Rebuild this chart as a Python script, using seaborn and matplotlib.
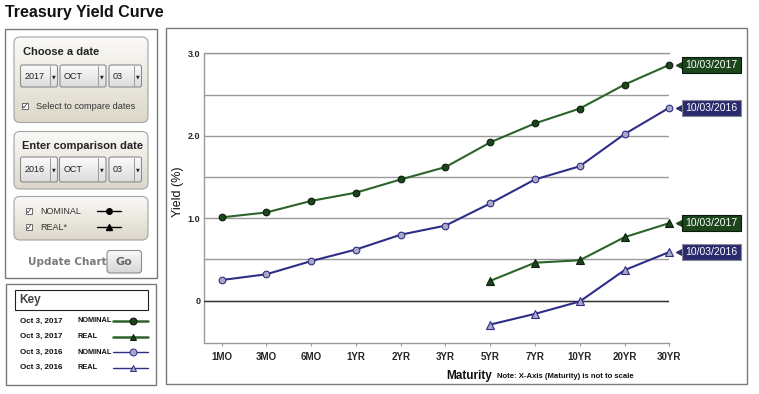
import numpy as np
import pandas as pd
import seaborn as sns
import matplotlib.pyplot as plt
from matplotlib.patches import FancyBboxPatch, Rectangle
from matplotlib.colors import LinearSegmentedColormap
from matplotlib.transforms import offset_copy

# data
maturities = ["1MO", "3MO", "6MO", "1YR", "2YR", "3YR", "5YR", "7YR", "10YR", "20YR", "30YR"]
nominal_2017 = [1.01, 1.07, 1.21, 1.31, 1.47, 1.62, 1.92, 2.15, 2.33, 2.62, 2.86]
nominal_2016 = [0.25, 0.32, 0.48, 0.62, 0.80, 0.91, 1.18, 1.47, 1.63, 2.02, 2.34]
real_maturities = ["5YR", "7YR", "10YR", "20YR", "30YR"]
real_2017 = [0.24, 0.46, 0.49, 0.77, 0.94]
real_2016 = [-0.29, -0.16, -0.01, 0.37, 0.59]
y_ticks = [0, 1, 2, 3]
y_ticklabels = ["0", "1.0", "2.0", "3.0"]
date_new = "10/03/2017"
date_old = "10/03/2016"

green = "#2a642a"
green_dark = "#1b451b"
navy = "#2e2e88"
navy_tag = "#2a2b6e"
lav = "#a9a9c6"

sns.set_style("white")
plt.rcParams['font.family'] = ['Liberation Sans', 'DejaVu Sans']

fig = plt.figure(figsize=(7.59, 3.94), dpi=100)

# full-figure axes in pixel units for the page furniture
bg = fig.add_axes([0, 0, 1, 1])
bg.axis('off')


def gbox(x0, y0, x1, y1, top, bottom, r=6, ec="#a3a3a3", lw=0.8):
    p = FancyBboxPatch((x0, y0), x1 - x0, y1 - y0,
                       boxstyle=f"round,pad=0,rounding_size={r}",
                       fc='none', ec=ec, lw=lw, zorder=3)
    bg.add_patch(p)
    grad = np.linspace(0, 1, 64).reshape(-1, 1)
    cmap = LinearSegmentedColormap.from_list('g', [top, bottom])
    im = bg.imshow(grad, cmap=cmap, extent=(x0, x1, y1, y0), aspect='auto',
                   zorder=2, interpolation='bilinear')
    im.set_clip_path(p)


def dropdown(x0, x1, y0, y1, text):
    gbox(x0, y0, x1, y1, "#fbfbfb", "#dcdcdc", r=2, ec="#8c8c8c")
    bg.plot([x1 - 8, x1 - 8], [y0 + 1, y1 - 1], color="#9a9a9a", lw=0.7, zorder=4)
    bg.text(x1 - 4, (y0 + y1) / 2 + 0.5, "\u25BC", fontsize=3.5, ha='center', va='center',
            color="#222222", family='DejaVu Sans', zorder=4)
    bg.text(x0 + 4, (y0 + y1) / 2, text, fontsize=6.5, ha='left', va='center',
            color="#222222", zorder=4)


def checkbox(x, y):
    bg.add_patch(Rectangle((x, y - 3), 6, 6, fc='white', ec="#555555", lw=0.6, zorder=4))
    bg.text(x + 3, y, "\u2713", fontsize=5.5, ha='center', va='center',
            family='DejaVu Sans', color="#222222", zorder=5)


# title
bg.text(5, 12, "Treasury Yield Curve", fontsize=11.5, fontweight='bold',
        ha='left', va='center', color="#111111")

# left control panel
bg.add_patch(Rectangle((5, 28.5), 151.5, 249, fc='white', ec="#7a7a7a", lw=1))
gbox(14, 37, 148, 122.5, "#fbfaf7", "#dcd7c9")
bg.text(23, 52, "Choose a date", fontsize=8, fontweight='bold', va='center', color="#222222", zorder=4)
dropdown(20.5, 57.5, 65, 87, "2017")
dropdown(60, 106, 65, 87, "OCT")
dropdown(109, 141.5, 65, 87, "03")
checkbox(22, 106)
bg.text(36, 106, "Select to compare dates", fontsize=6.6, va='center', color="#333333", zorder=4)

gbox(14, 131.5, 148, 189, "#fbfaf7", "#dcd7c9")
bg.text(22, 146, "Enter comparison date", fontsize=8, fontweight='bold', va='center', color="#222222", zorder=4)
dropdown(20.5, 57.5, 157, 182, "2016")
dropdown(59.5, 106, 157, 182, "OCT")
dropdown(109, 141.5, 157, 182, "03")

gbox(14, 196.5, 148, 240, "#fbfaf7", "#dcd7c9")
checkbox(26, 211)
bg.text(40, 211, "NOMINAL", fontsize=6.5, va='center', color="#333333", zorder=4)
checkbox(26, 227)
bg.text(40, 227, "REAL*", fontsize=6.5, va='center', color="#333333", zorder=4)
bg.plot([97, 121], [211, 211], color='black', lw=1, zorder=4)
bg.plot([109], [211], marker='o', ms=4, color='black', zorder=5)
bg.plot([97, 121], [227, 227], color='black', lw=1, zorder=4)
bg.plot([109], [226.5], marker='^', ms=5, color='black', zorder=5)

bg.text(28, 262, "Update Chart", fontsize=7.5, fontweight='bold', family='DejaVu Sans',
        va='center', color="#7b7b7b", zorder=4)
gbox(107, 250.5, 141.5, 273, "#fafafa", "#d6d6d6", r=3, ec="#8c8c8c")
bg.text(124, 262, "Go", fontsize=8, fontweight='bold', family='DejaVu Sans',
        ha='center', va='center', color="#666666", zorder=4)

# key panel
bg.add_patch(Rectangle((6, 284), 150, 101, fc='white', ec="#7a7a7a", lw=1))
bg.add_patch(Rectangle((15, 289.5), 133, 20, fc='white', ec="#222222", lw=0.8))
bg.text(19, 300, "Key", fontsize=8.5, fontweight='bold', va='center', color="#444444")
key_rows = [
    ("Oct 3, 2017", "NOMINAL", green, 'o', green_dark, "#111111", 1.8),
    ("Oct 3, 2017", "REAL", green, '^', green_dark, "#111111", 1.8),
    ("Oct 3, 2016", "NOMINAL", navy, 'o', lav, navy, 1.0),
    ("Oct 3, 2016", "REAL", navy, '^', lav, navy, 1.0),
]
for i, (d, kind, col, mk, fc, ec, lw) in enumerate(key_rows):
    yy = 321 + i * 15.5
    bg.text(20, yy, d, fontsize=5.8, fontweight='bold', va='center', color="#111111")
    bg.text(78, yy, kind, fontsize=5.3, fontweight='bold', va='center', color="#111111")
    bg.plot([113, 148], [yy, yy], color=col, lw=lw)
    bg.plot([133], [yy], marker=mk, ms=5, mfc=fc, mec=ec, mew=0.7)

# chart frame
bg.add_patch(Rectangle((165.7, 28.3), 581, 355.7, fc='white', ec="#7a7a7a", lw=1))
bg.set_xlim(0, 759)
bg.set_ylim(394, 0)

# chart axes
W, H = 759, 394
ax = fig.add_axes([204.5 / W, (H - 342.7) / H, (669.3 - 204.5) / W, (342.7 - 53.3) / H])
ax.patch.set_alpha(0)

pos_all = np.arange(len(maturities))
pos_real = np.array([maturities.index(m) for m in real_maturities])

nominal = pd.DataFrame({"pos": pos_all, "y2017": nominal_2017, "y2016": nominal_2016})
real = pd.DataFrame({"pos": pos_real, "y2017": real_2017, "y2016": real_2016})

series = [
    (nominal, "y2017", green, 'o', 4.8, green_dark, "#0c1f0c"),
    (nominal, "y2016", navy, 'o', 4.8, lav, navy),
    (real, "y2017", green, '^', 5.5, green_dark, "#0c1f0c"),
    (real, "y2016", navy, '^', 5.5, lav, navy),
]
for df, col, c, mk, ms, mfc, mec in series:
    sns.lineplot(data=df, x="pos", y=col, ax=ax, color=c, lw=1.5, marker=mk, ms=ms,
                 markerfacecolor=mfc, markeredgecolor=mec, markeredgewidth=0.8,
                 clip_on=False, zorder=5)

ax.set_xlim(-0.384, len(maturities) - 1)
ax.set_ylim(-0.51, 3.0)
ax.set_yticks(y_ticks)
ax.set_yticklabels(y_ticklabels)
ax.set_yticks([0.5, 1.5, 2.5], minor=True)
ax.grid(True, which='both', axis='y', color="#9a9a9a", lw=1)
ax.grid(False, axis='x')
ax.axhline(0, color="#333333", lw=1, zorder=3)
ax.set_xticks(pos_all)
ax.set_xticklabels(maturities)
ax.tick_params(axis='x', which='major', length=2.5, width=0.8, color="#9a9a9a", pad=4,
               labelsize=7, direction='out', bottom=True)
ax.tick_params(axis='y', which='both', length=0, pad=3, labelsize=6.5)
for lab in ax.get_xticklabels() + ax.get_yticklabels():
    lab.set_fontweight('bold')
for s in ['left', 'bottom', 'top']:
    ax.spines[s].set_color("#9a9a9a")
    ax.spines[s].set_linewidth(1)
ax.spines['right'].set_visible(False)

ax.set_xlabel("")
ax.set_ylabel("Yield (%)", fontsize=9, color="#111111")
ax.yaxis.set_label_coords(-0.044, 0.52)
ax.text(0.569, -0.115, "Maturity", transform=ax.transAxes, fontsize=8.5, fontweight='bold',
        ha='center', va='center', color="#111111")
ax.text(0.629, -0.118, "Note: X-Axis (Maturity) is not to scale", transform=ax.transAxes,
        fontsize=5.6, fontweight='bold', ha='left', va='center', color="#111111")

# end-of-curve date tags
tags = [
    (nominal_2017[-1], date_new, green_dark, "#0a1a0a"),
    (nominal_2016[-1], date_old, navy_tag, "#8a8a9a"),
    (real_2017[-1], date_new, green_dark, "#0a1a0a"),
    (real_2016[-1], date_old, navy_tag, "#8a8a9a"),
]
last = pos_all[-1]
for val, txt, fc, ec in tags:
    ax.plot(last, val, marker='<', ms=4.5, color=fc, clip_on=False, zorder=6,
            transform=offset_copy(ax.transData, fig=fig, x=10, y=0, units='dots'))
    ax.text(last, val, txt, fontsize=7.5, color='white', ha='left', va='center', clip_on=False,
            zorder=6, transform=offset_copy(ax.transData, fig=fig, x=16, y=0, units='dots'),
            bbox=dict(boxstyle='square,pad=0.3', fc=fc, ec=ec, lw=0.8))

fig.savefig("out.png", dpi=100)
